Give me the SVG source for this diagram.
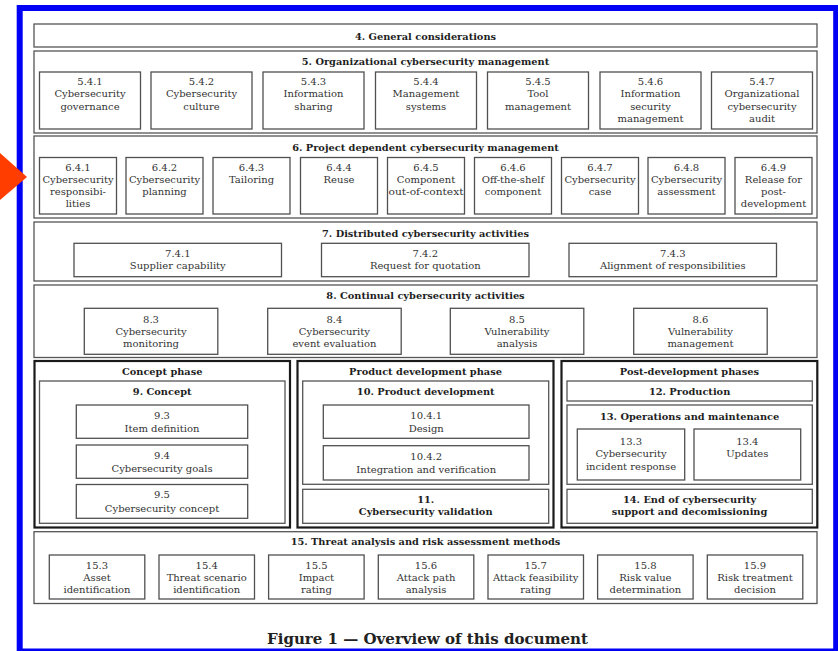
<svg xmlns="http://www.w3.org/2000/svg" width="838" height="651" viewBox="0 0 838 651">
<style>
text{font-family:"DejaVu Serif","Liberation Serif",serif;text-anchor:middle}
.t{font-size:10px;fill:#333}
.b{font-size:9.8px;font-weight:bold;fill:#1e1e1e}
.cap{font-size:14.5px;font-weight:bold;fill:#222}
.box{fill:#fff;stroke:#505050;stroke-width:1.3}
.sec{fill:#fff;stroke:#555;stroke-width:1.3}
.ph{fill:#fff;stroke:#1a1a1a;stroke-width:2.2}
</style>
<rect width="838" height="651" fill="#fff"/>
<rect x="19.7" y="8" width="816.5" height="643.5" fill="none" stroke="#0000f5" stroke-width="6"/>
<polygon points="0,153 27,177 0,200" fill="#ff3d00"/>

<g id="s4"><rect class="sec" x="34" y="24" width="783" height="23"/><text class="b" x="425.5" y="40.4">4. General considerations</text></g>

<g id="s5"><rect class="sec" x="34" y="51" width="783" height="82"/><text class="b" x="425.5" y="64.7">5. Organizational cybersecurity management</text></g>
<g id="n541"><rect class="box" x="39.5" y="72" width="101" height="57"/><text class="t"><tspan x="90" y="84.7">5.4.1</tspan><tspan x="90" y="97.1">Cybersecurity</tspan><tspan x="90" y="109.5">governance</tspan></text></g>
<g id="n542"><rect class="box" x="151" y="72" width="101" height="57"/><text class="t"><tspan x="201.5" y="84.7">5.4.2</tspan><tspan x="201.5" y="97.1">Cybersecurity</tspan><tspan x="201.5" y="109.5">culture</tspan></text></g>
<g id="n543"><rect class="box" x="263" y="72" width="101" height="57"/><text class="t"><tspan x="313.5" y="84.7">5.4.3</tspan><tspan x="313.5" y="97.1">Information</tspan><tspan x="313.5" y="109.5">sharing</tspan></text></g>
<g id="n544"><rect class="box" x="375.5" y="72" width="101" height="57"/><text class="t"><tspan x="426" y="84.7">5.4.4</tspan><tspan x="426" y="97.1">Management</tspan><tspan x="426" y="109.5">systems</tspan></text></g>
<g id="n545"><rect class="box" x="487.5" y="72" width="101" height="57"/><text class="t"><tspan x="538" y="84.7">5.4.5</tspan><tspan x="538" y="97.1">Tool</tspan><tspan x="538" y="109.5">management</tspan></text></g>
<g id="n546"><rect class="box" x="600" y="72" width="101" height="57"/><text class="t"><tspan x="650.5" y="84.7">5.4.6</tspan><tspan x="650.5" y="97.1">Information</tspan><tspan x="650.5" y="109.5">security</tspan><tspan x="650.5" y="121.9">management</tspan></text></g>
<g id="n547"><rect class="box" x="711.5" y="72" width="101" height="57"/><text class="t"><tspan x="762" y="84.7">5.4.7</tspan><tspan x="762" y="97.1">Organizational</tspan><tspan x="762" y="109.5">cybersecurity</tspan><tspan x="762" y="121.9">audit</tspan></text></g>

<g id="s6"><rect class="sec" x="34" y="136" width="783" height="82"/><text class="b" x="425.5" y="151.4">6. Project dependent cybersecurity management</text></g>
<g id="n641"><rect class="box" x="39.5" y="157.5" width="77" height="56.5"/><text class="t"><tspan x="78" y="170.5">6.4.1</tspan><tspan x="78" y="182.8">Cybersecurity</tspan><tspan x="78" y="195.1">responsibi-</tspan><tspan x="78" y="207.4">lities</tspan></text></g>
<g id="n642"><rect class="box" x="126" y="157.5" width="77" height="56.5"/><text class="t"><tspan x="164.5" y="170.5">6.4.2</tspan><tspan x="164.5" y="182.8">Cybersecurity</tspan><tspan x="164.5" y="195.1">planning</tspan></text></g>
<g id="n643"><rect class="box" x="213" y="157.5" width="77" height="56.5"/><text class="t"><tspan x="251.5" y="170.5">6.4.3</tspan><tspan x="251.5" y="182.8">Tailoring</tspan></text></g>
<g id="n644"><rect class="box" x="300.5" y="157.5" width="77" height="56.5"/><text class="t"><tspan x="339" y="170.5">6.4.4</tspan><tspan x="339" y="182.8">Reuse</tspan></text></g>
<g id="n645"><rect class="box" x="387.5" y="157.5" width="77" height="56.5"/><text class="t"><tspan x="426" y="170.5">6.4.5</tspan><tspan x="426" y="182.8">Component</tspan><tspan x="426" y="195.1" textLength="75" lengthAdjust="spacingAndGlyphs">out-of-context</tspan></text></g>
<g id="n646"><rect class="box" x="474.5" y="157.5" width="77" height="56.5"/><text class="t"><tspan x="513" y="170.5">6.4.6</tspan><tspan x="513" y="182.8">Off-the-shelf</tspan><tspan x="513" y="195.1">component</tspan></text></g>
<g id="n647"><rect class="box" x="561.5" y="157.5" width="77" height="56.5"/><text class="t"><tspan x="600" y="170.5">6.4.7</tspan><tspan x="600" y="182.8">Cybersecurity</tspan><tspan x="600" y="195.1">case</tspan></text></g>
<g id="n648"><rect class="box" x="648" y="157.5" width="77" height="56.5"/><text class="t"><tspan x="686.5" y="170.5">6.4.8</tspan><tspan x="686.5" y="182.8">Cybersecurity</tspan><tspan x="686.5" y="195.1">assessment</tspan></text></g>
<g id="n649"><rect class="box" x="735" y="157.5" width="77" height="56.5"/><text class="t"><tspan x="773.5" y="170.5">6.4.9</tspan><tspan x="773.5" y="182.8">Release for</tspan><tspan x="773.5" y="195.1">post-</tspan><tspan x="773.5" y="207.4">development</tspan></text></g>

<g id="s7"><rect class="sec" x="34" y="222" width="783" height="59"/><text class="b" x="425.5" y="237">7. Distributed cybersecurity activities</text></g>
<g id="n741"><rect class="box" x="74" y="243.3" width="207.5" height="33.4"/><text class="t"><tspan x="177.8" y="257">7.4.1</tspan><tspan x="177.8" y="269.2">Supplier capability</tspan></text></g>
<g id="n742"><rect class="box" x="321.5" y="243.3" width="207.5" height="33.4"/><text class="t"><tspan x="425.3" y="257">7.4.2</tspan><tspan x="425.3" y="269.2">Request for quotation</tspan></text></g>
<g id="n743"><rect class="box" x="569" y="243.3" width="207.5" height="33.4"/><text class="t"><tspan x="672.8" y="257">7.4.3</tspan><tspan x="672.8" y="269.2">Alignment of responsibilities</tspan></text></g>

<g id="s8"><rect class="sec" x="34" y="285" width="783" height="72.5"/><text class="b" x="425.5" y="298.7">8. Continual cybersecurity activities</text></g>
<g id="n83"><rect class="box" x="84.3" y="308.3" width="133.5" height="46"/><text class="t"><tspan x="151" y="322.5">8.3</tspan><tspan x="151" y="334.6">Cybersecurity</tspan><tspan x="151" y="346.7">monitoring</tspan></text></g>
<g id="n84"><rect class="box" x="267.7" y="308.3" width="133.5" height="46"/><text class="t"><tspan x="334.4" y="322.5">8.4</tspan><tspan x="334.4" y="334.6">Cybersecurity</tspan><tspan x="334.4" y="346.7">event evaluation</tspan></text></g>
<g id="n85"><rect class="box" x="450.3" y="308.3" width="133.5" height="46"/><text class="t"><tspan x="517" y="322.5">8.5</tspan><tspan x="517" y="334.6">Vulnerability</tspan><tspan x="517" y="346.7">analysis</tspan></text></g>
<g id="n86"><rect class="box" x="633.7" y="308.3" width="133.5" height="46"/><text class="t"><tspan x="700.4" y="322.5">8.6</tspan><tspan x="700.4" y="334.6">Vulnerability</tspan><tspan x="700.4" y="346.7">management</tspan></text></g>

<g id="concept-phase"><rect class="ph" x="34.5" y="361" width="255.5" height="166.5"/><text class="b" x="162.2" y="375.4">Concept phase</text></g>
<g id="s9"><rect class="sec" x="39.5" y="381" width="245.5" height="142.3"/><text class="b" x="162.2" y="394.7">9. Concept</text></g>
<g id="n93"><rect class="box" x="76.3" y="405" width="171.4" height="33.3"/><text class="t"><tspan x="162" y="418.9">9.3</tspan><tspan x="162" y="432">Item definition</tspan></text></g>
<g id="n94"><rect class="box" x="76.3" y="445" width="171.4" height="33.3"/><text class="t"><tspan x="162" y="458.9">9.4</tspan><tspan x="162" y="472">Cybersecurity goals</tspan></text></g>
<g id="n95"><rect class="box" x="76.3" y="484.5" width="171.4" height="33.8"/><text class="t"><tspan x="162" y="498.4">9.5</tspan><tspan x="162" y="511.5">Cybersecurity concept</tspan></text></g>

<g id="product-phase"><rect class="ph" x="297.5" y="361" width="256" height="166.5"/><text class="b" x="425.5" y="375.4">Product development phase</text></g>
<g id="s10"><rect class="sec" x="302.7" y="381" width="246" height="103.3"/><text class="b" x="425.7" y="394.7">10. Product development</text></g>
<g id="n1041"><rect class="box" x="323.3" y="405" width="205.7" height="33.3"/><text class="t"><tspan x="426.2" y="418.9">10.4.1</tspan><tspan x="426.2" y="432">Design</tspan></text></g>
<g id="n1042"><rect class="box" x="323.3" y="445.7" width="205.7" height="34.3"/><text class="t"><tspan x="426.2" y="459.6">10.4.2</tspan><tspan x="426.2" y="472.7">Integration and verification</tspan></text></g>
<g id="s11"><rect class="sec" x="302.7" y="489.3" width="246" height="34"/><text class="b"><tspan x="425.7" y="502.6">11.</tspan><tspan x="425.7" y="514.9">Cybersecurity validation</tspan></text></g>

<g id="post-phase"><rect class="ph" x="561.5" y="361" width="255.8" height="166.5"/><text class="b" x="689.4" y="375.4">Post-development phases</text></g>
<g id="s12"><rect class="sec" x="567" y="381" width="245.3" height="20"/><text class="b" x="689.6" y="394.7">12. Production</text></g>
<g id="s13"><rect class="sec" x="567" y="405" width="245.3" height="79.3"/><text class="b" x="689.6" y="420.3">13. Operations and maintenance</text></g>
<g id="n133"><rect class="box" x="577.3" y="429" width="107.4" height="51"/><text class="t"><tspan x="631" y="444.8">13.3</tspan><tspan x="631" y="457.2">Cybersecurity</tspan><tspan x="631" y="469.6">incident response</tspan></text></g>
<g id="n134"><rect class="box" x="694" y="429" width="106.7" height="51"/><text class="t"><tspan x="747.3" y="444.8">13.4</tspan><tspan x="747.3" y="457.2">Updates</tspan></text></g>
<g id="s14"><rect class="sec" x="567" y="489.3" width="245.3" height="34"/><text class="b"><tspan x="689.6" y="502.9">14. End of cybersecurity</tspan><tspan x="689.6" y="515.4">support and decomissioning</tspan></text></g>

<g id="s15"><rect class="sec" x="34" y="531.7" width="783" height="71.8"/><text class="b" x="425.5" y="545.4">15. Threat analysis and risk assessment methods</text></g>
<g id="n153"><rect class="box" x="49.3" y="555" width="95.5" height="44"/><text class="t"><tspan x="97" y="568.8">15.3</tspan><tspan x="97" y="581.1">Asset</tspan><tspan x="97" y="593.2">identification</tspan></text></g>
<g id="n154"><rect class="box" x="159" y="555" width="95.5" height="44"/><text class="t"><tspan x="206.7" y="568.8">15.4</tspan><tspan x="206.7" y="581.1">Threat scenario</tspan><tspan x="206.7" y="593.2">identification</tspan></text></g>
<g id="n155"><rect class="box" x="268.6" y="555" width="95.5" height="44"/><text class="t"><tspan x="316.4" y="568.8">15.5</tspan><tspan x="316.4" y="581.1">Impact</tspan><tspan x="316.4" y="593.2">rating</tspan></text></g>
<g id="n156"><rect class="box" x="378.3" y="555" width="95.5" height="44"/><text class="t"><tspan x="426" y="568.8">15.6</tspan><tspan x="426" y="581.1">Attack path</tspan><tspan x="426" y="593.2">analysis</tspan></text></g>
<g id="n157"><rect class="box" x="488" y="555" width="95.5" height="44"/><text class="t"><tspan x="535.7" y="568.8">15.7</tspan><tspan x="535.7" y="581.1">Attack feasibility</tspan><tspan x="535.7" y="593.2">rating</tspan></text></g>
<g id="n158"><rect class="box" x="597.6" y="555" width="95.5" height="44"/><text class="t"><tspan x="645.4" y="568.8">15.8</tspan><tspan x="645.4" y="581.1">Risk value</tspan><tspan x="645.4" y="593.2">determination</tspan></text></g>
<g id="n159"><rect class="box" x="707.3" y="555" width="95.5" height="44"/><text class="t"><tspan x="755" y="568.8">15.9</tspan><tspan x="755" y="581.1">Risk treatment</tspan><tspan x="755" y="593.2">decision</tspan></text></g>

<g id="connectors"></g>

<text class="cap" x="427.5" y="644.3" textLength="321" lengthAdjust="spacingAndGlyphs">Figure 1 — Overview of this document</text>
</svg>
